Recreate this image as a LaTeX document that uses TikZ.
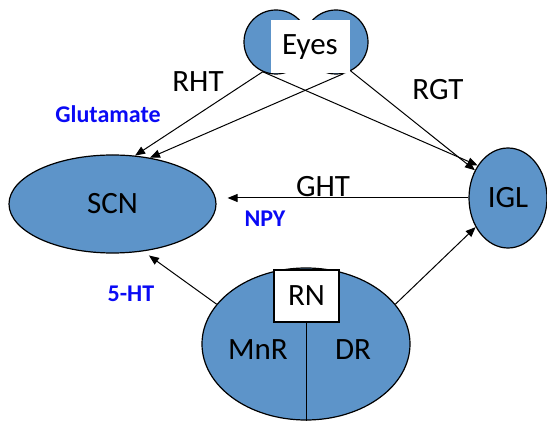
\documentclass[tikz,border=0pt]{standalone}
\usepackage{fontspec}
\setmainfont{Carlito}
\usepackage{xcolor}
\usetikzlibrary{arrows.meta, positioning, calc, shapes.geometric}
\definecolor{nucleus}{RGB}{93,148,201}
\definecolor{nt}{RGB}{10,10,245}

\begin{document}
\begin{tikzpicture}[
  x=0.5pt, y=-0.5pt,
  font=\fontsize{15.5}{18}\selectfont,
  nuc/.style={draw, ellipse, fill=nucleus, line width=0.6pt, inner sep=0pt},
  eye/.style={draw, circle, fill=nucleus, line width=0.6pt, minimum size=32pt, inner sep=0pt},
  tag/.style={fill=white, inner sep=0pt, minimum width=39.5pt, minimum height=26.5pt},
  ntlbl/.style={font=\fontsize{12}{14}\selectfont\bfseries, text=nt},
  proj/.style={-{Triangle[length=5pt,width=4pt]}, line width=0.5pt}
]
\useasboundingbox (0,0) rectangle (547,422);
% eyes
\node[eye] (eyeL) at (276,42) {};
\node[eye] (eyeR) at (336,42) {};
\node[tag] (eyes) at (310,47) {Eyes};
% nuclei
\node[nuc, minimum width=103.5pt, minimum height=49pt] (scn) at (112.5,204) {SCN};
\node[nuc, minimum width=39pt, minimum height=50pt] (igl) at (508,198) {IGL};
\node[nuc, minimum width=104pt, minimum height=76pt] (rn) at (306,344) {};
\node[draw, fill=white, line width=0.6pt, minimum width=32.5pt, minimum height=26pt, inner sep=0pt] (rnbox) at (306.5,296) {RN};
\draw[line width=0.6pt] (rnbox.south) -- (rnbox.south |- rn.south);
\node (mnr) at (258,350) {MnR};
\node (dr) at (353,350) {DR};
% retinal tracts
\draw[proj] (eyeL.-114) -- (scn.65);
\draw[proj] (eyeL.-114) -- (igl.133);
\draw[proj] (eyeR.-77) -- (scn.51);
\draw[proj] (eyeR.-63) -- (igl.140);
% other inputs
\draw[proj, shorten >=5.5pt] (igl.west) -- (scn.east |- igl.west);
\draw[proj, shorten >=3.5pt] (rn.156) -- (scn.-57);
\draw[proj] (rn.24) -- (igl.-138);
% labels
\node (rht) at (198,82) {RHT};
\node (rgt) at (438,90) {RGT};
\node (ght) at (323,187) {GHT};
\node[ntlbl] (glu) at (108,114) {Glutamate};
\node[ntlbl] (npy) at (265,219) {NPY};
\node[ntlbl] (sht) at (131,294) {5-HT};
\end{tikzpicture}
\end{document}
